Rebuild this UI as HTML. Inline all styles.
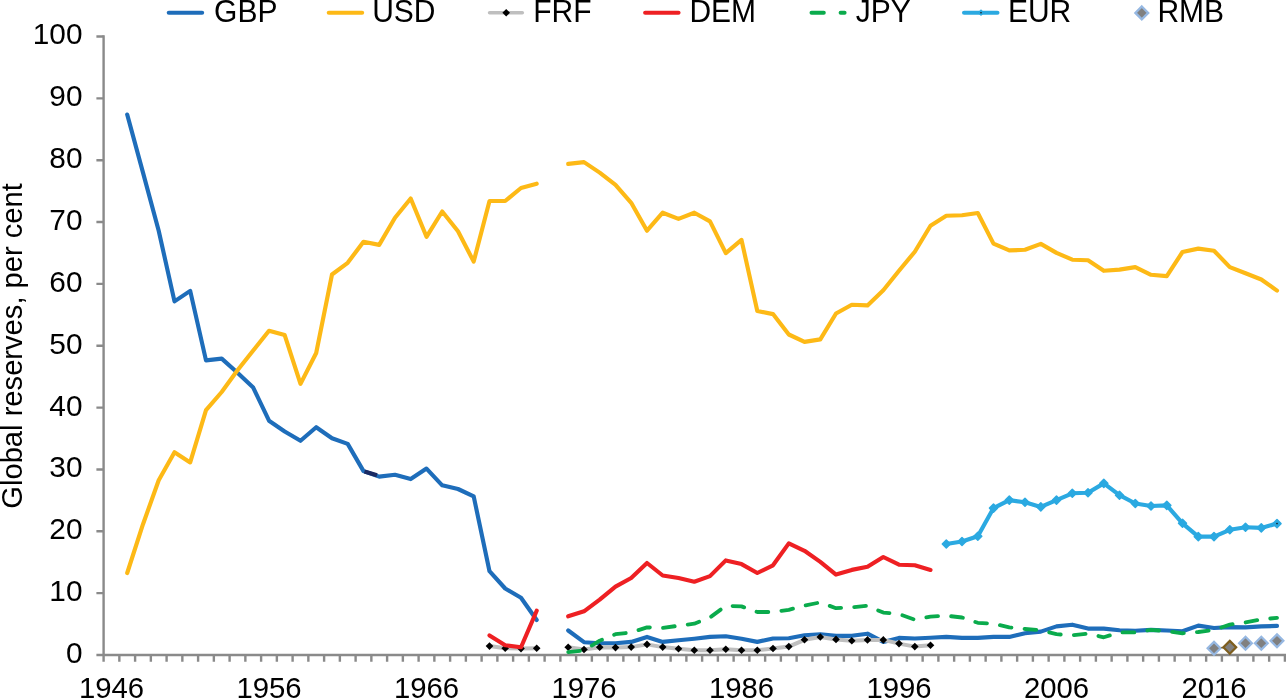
<!DOCTYPE html>
<html lang="en">
<head>
<meta charset="utf-8">
<title>Global reserves, per cent</title>
<style>html,body{margin:0;padding:0;background:#fff}body{width:1286px;height:698px;overflow:hidden}svg{display:block}</style>
</head>
<body>
<svg width="1286" height="698" viewBox="0 0 1286 698">
<rect width="1286" height="698" fill="#fff"/>
<g stroke="#8a8a8a" stroke-width="2.4" fill="none">
<path d="M103.6 35.3V661.8M96.4 655.0H1286"/>
<path d="M96.4 36.50H103.6M96.4 98.35H103.6M96.4 160.20H103.6M96.4 222.05H103.6M96.4 283.90H103.6M96.4 345.75H103.6M96.4 407.60H103.6M96.4 469.45H103.6M96.4 531.30H103.6M96.4 593.15H103.6M119.35 655.0V661.8M135.10 655.0V661.8M150.85 655.0V661.8M166.60 655.0V661.8M182.35 655.0V661.8M198.10 655.0V661.8M213.85 655.0V661.8M229.61 655.0V661.8M245.36 655.0V661.8M261.11 655.0V661.8M276.86 655.0V661.8M292.61 655.0V661.8M308.36 655.0V661.8M324.11 655.0V661.8M339.86 655.0V661.8M355.61 655.0V661.8M371.36 655.0V661.8M387.11 655.0V661.8M402.86 655.0V661.8M418.61 655.0V661.8M434.36 655.0V661.8M450.12 655.0V661.8M465.87 655.0V661.8M481.62 655.0V661.8M497.37 655.0V661.8M513.12 655.0V661.8M528.87 655.0V661.8M544.62 655.0V661.8M560.37 655.0V661.8M576.12 655.0V661.8M591.87 655.0V661.8M607.62 655.0V661.8M623.37 655.0V661.8M639.12 655.0V661.8M654.87 655.0V661.8M670.63 655.0V661.8M686.38 655.0V661.8M702.13 655.0V661.8M717.88 655.0V661.8M733.63 655.0V661.8M749.38 655.0V661.8M765.13 655.0V661.8M780.88 655.0V661.8M796.63 655.0V661.8M812.38 655.0V661.8M828.13 655.0V661.8M843.88 655.0V661.8M859.63 655.0V661.8M875.38 655.0V661.8M891.13 655.0V661.8M906.89 655.0V661.8M922.64 655.0V661.8M938.39 655.0V661.8M954.14 655.0V661.8M969.89 655.0V661.8M985.64 655.0V661.8M1001.39 655.0V661.8M1017.14 655.0V661.8M1032.89 655.0V661.8M1048.64 655.0V661.8M1064.39 655.0V661.8M1080.14 655.0V661.8M1095.89 655.0V661.8M1111.64 655.0V661.8M1127.40 655.0V661.8M1143.15 655.0V661.8M1158.90 655.0V661.8M1174.65 655.0V661.8M1190.40 655.0V661.8M1206.15 655.0V661.8M1221.90 655.0V661.8M1237.65 655.0V661.8M1253.40 655.0V661.8M1269.15 655.0V661.8M1284.90 655.0V661.8"/>
</g>
<g>
<polyline points="127.2,114.5 143.0,172.6 158.7,230.7 174.5,301.4 190.2,290.9 206.0,360.4 221.7,358.6 237.5,372.8 253.2,387.6 269.0,420.7 284.7,431.5 300.5,440.8 316.2,427.2 332.0,438.3 347.7,443.9 363.5,471.1 379.2,476.6 395.0,474.8 410.7,479.1 426.5,468.6 442.2,485.3 458.0,489.0 473.7,496.4 489.5,571.2 505.2,588.5 521.0,597.7 536.7,620.0" stroke="#1e6dba" fill="none" stroke-width="4.15" stroke-linejoin="round" stroke-linecap="round"/>
<polyline points="568.2,630.5 584.0,642.2 599.7,643.2 615.5,643.2 631.2,641.9 647.0,636.9 662.7,641.9 678.5,640.2 694.3,638.7 710.0,636.9 725.8,636.2 741.5,638.7 757.3,641.9 773.0,638.5 788.8,638.2 804.5,635.3 820.3,634.2 836.0,635.8 851.8,635.8 867.5,633.7 883.3,641.9 899.0,637.9 914.8,638.5 930.5,637.7 946.3,636.9 962.0,637.9 977.8,637.9 993.5,636.9 1009.3,636.9 1025.0,633.3 1040.8,631.6 1056.5,626.4 1072.3,624.7 1088.0,628.6 1103.8,628.6 1119.5,630.3 1135.3,630.8 1151.0,629.9 1166.8,630.5 1182.5,631.3 1198.3,625.6 1214.0,628.0 1229.8,627.1 1245.5,627.4 1261.3,626.4 1277.0,625.9" stroke="#1e6dba" fill="none" stroke-width="4.15" stroke-linejoin="round" stroke-linecap="round"/>
<path d="M364.5 471.4L377.0 475.3" stroke="#1b2a63" stroke-width="4.15" fill="none"/>
<polyline points="127.2,573.0 143.0,524.2 158.7,480.3 174.5,452.2 190.2,462.4 206.0,410.2 221.7,392.0 237.5,370.3 253.2,350.5 269.0,330.8 284.7,335.1 300.5,383.9 316.2,353.0 332.0,274.5 347.7,262.8 363.5,241.8 379.2,244.9 395.0,217.7 410.7,198.5 426.5,236.8 442.2,211.5 458.0,231.3 473.7,261.6 489.5,201.0 505.2,201.0 521.0,188.0 536.7,183.7" stroke="#fdb916" fill="none" stroke-width="4.15" stroke-linejoin="round" stroke-linecap="round"/>
<polyline points="568.2,163.9 584.0,162.1 599.7,172.6 615.5,184.9 631.2,202.8 647.0,230.7 662.7,212.7 678.5,218.9 694.3,212.7 710.0,221.4 725.8,253.2 741.5,239.9 757.3,311.0 773.0,314.1 788.8,334.5 804.5,341.9 820.3,339.4 836.0,313.5 851.8,304.8 867.5,305.4 883.3,290.3 899.0,270.8 914.8,251.7 930.5,225.7 946.3,215.8 962.0,215.2 977.8,213.0 993.5,243.6 1009.3,250.4 1025.0,249.8 1040.8,243.9 1056.5,252.9 1072.3,259.7 1088.0,260.3 1103.8,270.8 1119.5,269.6 1135.3,267.1 1151.0,274.8 1166.8,276.1 1182.5,252.0 1198.3,248.6 1214.0,250.7 1229.8,267.1 1245.5,273.3 1261.3,279.5 1277.0,290.6" stroke="#fdb916" fill="none" stroke-width="4.15" stroke-linejoin="round" stroke-linecap="round"/>
<polyline points="489.5,646.1 505.2,648.2 521.0,648.6 536.7,648.2" stroke="#bfbfbf" fill="none" stroke-width="4.0" stroke-linejoin="round" stroke-linecap="round"/>
<polyline points="568.2,647.3 584.0,649.5 599.7,647.3 615.5,647.6 631.2,647.1 647.0,644.4 662.7,647.1 678.5,648.7 694.3,650.2 710.0,650.2 725.8,649.3 741.5,650.2 757.3,650.2 773.0,648.5 788.8,646.6 804.5,639.8 820.3,637.0 836.0,639.4 851.8,640.7 867.5,639.9 883.3,639.9 899.0,643.6 914.8,646.6 930.5,645.2" stroke="#bfbfbf" fill="none" stroke-width="4.0" stroke-linejoin="round" stroke-linecap="round"/>
<path d="M489.5 642.3L493.3 646.1L489.5 649.9L485.7 646.1Z" fill="#000"/>
<path d="M505.2 644.4L509.0 648.2L505.2 652.0L501.4 648.2Z" fill="#000"/>
<path d="M521.0 644.8L524.8 648.6L521.0 652.4L517.2 648.6Z" fill="#000"/>
<path d="M536.7 644.4L540.5 648.2L536.7 652.0L532.9 648.2Z" fill="#000"/>
<path d="M568.2 643.5L572.0 647.3L568.2 651.1L564.4 647.3Z" fill="#000"/>
<path d="M584.0 645.7L587.8 649.5L584.0 653.3L580.2 649.5Z" fill="#000"/>
<path d="M599.7 643.5L603.5 647.3L599.7 651.1L595.9 647.3Z" fill="#000"/>
<path d="M615.5 643.8L619.3 647.6L615.5 651.4L611.7 647.6Z" fill="#000"/>
<path d="M631.2 643.3L635.0 647.1L631.2 650.9L627.4 647.1Z" fill="#000"/>
<path d="M647.0 640.6L650.8 644.4L647.0 648.2L643.2 644.4Z" fill="#000"/>
<path d="M662.7 643.3L666.5 647.1L662.7 650.9L658.9 647.1Z" fill="#000"/>
<path d="M678.5 644.9L682.3 648.7L678.5 652.5L674.7 648.7Z" fill="#000"/>
<path d="M694.3 646.4L698.1 650.2L694.3 654.0L690.5 650.2Z" fill="#000"/>
<path d="M710.0 646.4L713.8 650.2L710.0 654.0L706.2 650.2Z" fill="#000"/>
<path d="M725.8 645.5L729.6 649.3L725.8 653.1L722.0 649.3Z" fill="#000"/>
<path d="M741.5 646.4L745.3 650.2L741.5 654.0L737.7 650.2Z" fill="#000"/>
<path d="M757.3 646.4L761.1 650.2L757.3 654.0L753.5 650.2Z" fill="#000"/>
<path d="M773.0 644.7L776.8 648.5L773.0 652.3L769.2 648.5Z" fill="#000"/>
<path d="M788.8 642.8L792.6 646.6L788.8 650.4L785.0 646.6Z" fill="#000"/>
<path d="M804.5 636.0L808.3 639.8L804.5 643.6L800.7 639.8Z" fill="#000"/>
<path d="M820.3 633.2L824.1 637.0L820.3 640.8L816.5 637.0Z" fill="#000"/>
<path d="M836.0 635.6L839.8 639.4L836.0 643.2L832.2 639.4Z" fill="#000"/>
<path d="M851.8 636.9L855.6 640.7L851.8 644.5L848.0 640.7Z" fill="#000"/>
<path d="M867.5 636.1L871.3 639.9L867.5 643.7L863.7 639.9Z" fill="#000"/>
<path d="M883.3 636.1L887.1 639.9L883.3 643.7L879.5 639.9Z" fill="#000"/>
<path d="M899.0 639.8L902.8 643.6L899.0 647.4L895.2 643.6Z" fill="#000"/>
<path d="M914.8 642.8L918.6 646.6L914.8 650.4L911.0 646.6Z" fill="#000"/>
<path d="M930.5 641.4L934.3 645.2L930.5 649.0L926.7 645.2Z" fill="#000"/>
<polyline points="489.5,635.4 505.2,645.3 521.0,647.2 536.7,610.7" stroke="#ee2023" fill="none" stroke-width="4.15" stroke-linejoin="round" stroke-linecap="round"/>
<polyline points="568.2,616.3 584.0,611.3 599.7,599.6 615.5,586.6 631.2,578.0 647.0,563.0 662.7,575.5 678.5,578.0 694.3,581.7 710.0,576.1 725.8,560.4 741.5,564.1 757.3,573.0 773.0,565.3 788.8,543.4 804.5,550.8 820.3,561.9 836.0,574.6 851.8,569.9 867.5,566.8 883.3,557.0 899.0,564.7 914.8,565.3 930.5,569.9" stroke="#ee2023" fill="none" stroke-width="4.15" stroke-linejoin="round" stroke-linecap="round"/>
<polyline points="568.2,652.1 584.0,650.3 599.7,640.7 615.5,634.2 631.2,632.4 647.0,627.4 662.7,628.0 678.5,625.7 694.3,623.7 710.0,617.5 725.8,605.8 741.5,606.4 757.3,612.0 773.0,612.0 788.8,609.8 804.5,605.5 820.3,602.4 836.0,608.2 851.8,607.3 867.5,605.8 883.3,612.6 899.0,614.1 914.8,619.7 930.5,616.6 946.3,615.7 962.0,617.5 977.8,622.8 993.5,623.7 1009.3,627.4 1025.0,629.0 1040.8,630.3 1056.5,634.2 1072.3,635.3 1088.0,633.6 1103.8,637.3 1119.5,632.4 1135.3,632.4 1151.0,629.9 1166.8,631.1 1182.5,633.3 1198.3,632.0 1214.0,629.9 1229.8,624.6 1245.5,622.5 1261.3,619.4 1277.0,617.8" stroke="#0aab4c" fill="none" stroke-width="3.8" stroke-linejoin="round" stroke-linecap="round" stroke-dasharray="11.8 13.15"/>
<polyline points="946.3,544.0 962.0,541.5 977.8,536.3 993.5,508.1 1009.3,500.1 1025.0,502.3 1040.8,506.9 1056.5,500.1 1072.3,493.3 1088.0,492.7 1103.8,483.4 1119.5,495.2 1135.3,503.5 1151.0,506.0 1166.8,505.4 1182.5,523.3 1198.3,536.6 1214.0,536.6 1229.8,529.8 1245.5,527.3 1261.3,527.9 1277.0,523.6" stroke="#2ba9e1" fill="none" stroke-width="4.15" stroke-linejoin="round" stroke-linecap="round"/>
<path d="M946.3 540.0L950.3 544.0L946.3 548.0L942.3 544.0Z" fill="#2ba9e1" stroke="#2ba9e1" stroke-width="1.5" stroke-linejoin="round"/>
<path d="M962.0 537.5L966.0 541.5L962.0 545.5L958.0 541.5Z" fill="#2ba9e1" stroke="#2ba9e1" stroke-width="1.5" stroke-linejoin="round"/>
<path d="M977.8 532.3L981.8 536.3L977.8 540.3L973.8 536.3Z" fill="#2ba9e1" stroke="#2ba9e1" stroke-width="1.5" stroke-linejoin="round"/>
<path d="M993.5 504.1L997.5 508.1L993.5 512.1L989.5 508.1Z" fill="#2ba9e1" stroke="#2ba9e1" stroke-width="1.5" stroke-linejoin="round"/>
<path d="M1009.3 496.1L1013.3 500.1L1009.3 504.1L1005.3 500.1Z" fill="#2ba9e1" stroke="#2ba9e1" stroke-width="1.5" stroke-linejoin="round"/>
<path d="M1025.0 498.3L1029.0 502.3L1025.0 506.3L1021.0 502.3Z" fill="#2ba9e1" stroke="#2ba9e1" stroke-width="1.5" stroke-linejoin="round"/>
<path d="M1040.8 502.9L1044.8 506.9L1040.8 510.9L1036.8 506.9Z" fill="#2ba9e1" stroke="#2ba9e1" stroke-width="1.5" stroke-linejoin="round"/>
<path d="M1056.5 496.1L1060.5 500.1L1056.5 504.1L1052.5 500.1Z" fill="#2ba9e1" stroke="#2ba9e1" stroke-width="1.5" stroke-linejoin="round"/>
<path d="M1072.3 489.3L1076.3 493.3L1072.3 497.3L1068.3 493.3Z" fill="#2ba9e1" stroke="#2ba9e1" stroke-width="1.5" stroke-linejoin="round"/>
<path d="M1088.0 488.7L1092.0 492.7L1088.0 496.7L1084.0 492.7Z" fill="#2ba9e1" stroke="#2ba9e1" stroke-width="1.5" stroke-linejoin="round"/>
<path d="M1103.8 479.4L1107.8 483.4L1103.8 487.4L1099.8 483.4Z" fill="#2ba9e1" stroke="#2ba9e1" stroke-width="1.5" stroke-linejoin="round"/>
<path d="M1119.5 491.2L1123.5 495.2L1119.5 499.2L1115.5 495.2Z" fill="#2ba9e1" stroke="#2ba9e1" stroke-width="1.5" stroke-linejoin="round"/>
<path d="M1135.3 499.5L1139.3 503.5L1135.3 507.5L1131.3 503.5Z" fill="#2ba9e1" stroke="#2ba9e1" stroke-width="1.5" stroke-linejoin="round"/>
<path d="M1151.0 502.0L1155.0 506.0L1151.0 510.0L1147.0 506.0Z" fill="#2ba9e1" stroke="#2ba9e1" stroke-width="1.5" stroke-linejoin="round"/>
<path d="M1166.8 501.4L1170.8 505.4L1166.8 509.4L1162.8 505.4Z" fill="#2ba9e1" stroke="#2ba9e1" stroke-width="1.5" stroke-linejoin="round"/>
<path d="M1182.5 519.3L1186.5 523.3L1182.5 527.3L1178.5 523.3Z" fill="#2ba9e1" stroke="#2ba9e1" stroke-width="1.5" stroke-linejoin="round"/>
<path d="M1198.3 532.6L1202.3 536.6L1198.3 540.6L1194.3 536.6Z" fill="#2ba9e1" stroke="#2ba9e1" stroke-width="1.5" stroke-linejoin="round"/>
<path d="M1214.0 532.6L1218.0 536.6L1214.0 540.6L1210.0 536.6Z" fill="#2ba9e1" stroke="#2ba9e1" stroke-width="1.5" stroke-linejoin="round"/>
<path d="M1229.8 525.8L1233.8 529.8L1229.8 533.8L1225.8 529.8Z" fill="#2ba9e1" stroke="#2ba9e1" stroke-width="1.5" stroke-linejoin="round"/>
<path d="M1245.5 523.3L1249.5 527.3L1245.5 531.3L1241.5 527.3Z" fill="#2ba9e1" stroke="#2ba9e1" stroke-width="1.5" stroke-linejoin="round"/>
<path d="M1261.3 523.9L1265.3 527.9L1261.3 531.9L1257.3 527.9Z" fill="#2ba9e1" stroke="#2ba9e1" stroke-width="1.5" stroke-linejoin="round"/>
<path d="M1277.0 519.6L1281.0 523.6L1277.0 527.6L1273.0 523.6Z" fill="#2ba9e1" stroke="#2ba9e1" stroke-width="1.5" stroke-linejoin="round"/>
<circle cx="1277.0" cy="523.6" r="0.8" fill="#111"/>
<path d="M1220.3 647.7H1223.8" stroke="#7d5e1e" stroke-width="1.6"/>
<path d="M1214.0 641.9L1220.4 648.3L1214.0 654.7L1207.6 648.3Z" fill="#808080" stroke="#96b8e2" stroke-width="2.2"/>
<path d="M1229.8 640.9L1236.2 647.3L1229.8 653.7L1223.4 647.3Z" fill="#808080" stroke="#7d5e1e" stroke-width="2.2"/>
<path d="M1245.5 636.8L1251.9 643.2L1245.5 649.6L1239.1 643.2Z" fill="#808080" stroke="#96b8e2" stroke-width="2.2"/>
<path d="M1261.3 636.8L1267.7 643.2L1261.3 649.6L1254.9 643.2Z" fill="#808080" stroke="#96b8e2" stroke-width="2.2"/>
<path d="M1277.0 634.4L1283.4 640.8L1277.0 647.2L1270.6 640.8Z" fill="#808080" stroke="#96b8e2" stroke-width="2.2"/>
</g>
<g>
<path d="M168.8 12.75H202.1" stroke="#1e6dba" stroke-width="4.2" stroke-linecap="round" fill="none" />
<path d="M328.8 12.75H362.1" stroke="#fdb916" stroke-width="4.2" stroke-linecap="round" fill="none" />
<path d="M489.6 12.75H522.3" stroke="#bfbfbf" stroke-width="3.6" stroke-linecap="round" fill="none"/>
<path d="M506.2 8.9L510.0 12.8L506.2 16.6L502.4 12.8Z" fill="#000"/>
<path d="M645.2 12.75H678.5" stroke="#ee2023" stroke-width="4.2" stroke-linecap="round" fill="none" />
<path d="M811.5 12.75H823.8M840.6 12.75H844.6" stroke="#0aab4c" stroke-width="4" stroke-linecap="round" fill="none"/>
<path d="M964.1 12.75H997.4" stroke="#2ba9e1" stroke-width="4.2" stroke-linecap="round" fill="none" />
<path d="M981.0 9.3L984.4 12.8L981.0 16.1L977.6 12.8Z" fill="#2ba9e1"/>
<circle cx="981" cy="12.75" r="0.8" fill="#111"/>
<path d="M1141.8 6.5L1148.2 12.9L1141.8 19.3L1135.4 12.9Z" fill="#808080" stroke="#96b8e2" stroke-width="2.3"/>
</g>
<g font-family="'Liberation Sans', Arial, Helvetica, sans-serif" font-size="30" fill="#000" transform="scale(1 1.02)">
<text x="214.1" y="21.47">GBP</text>
<text x="372.2" y="21.47">USD</text>
<text x="533.3" y="21.47">FRF</text>
<text x="689.4" y="21.47">DEM</text>
<text x="855.7" y="21.47">JPY</text>
<text x="1007.9" y="21.47">EUR</text>
<text x="1157.4" y="21.47">RMB</text>
</g>
<g font-family="'Liberation Sans', Arial, Helvetica, sans-serif" font-size="30.5" fill="#000">
<text x="82.5" y="662.9" text-anchor="end" font-size="29.8">0</text>
<text x="82.5" y="601.0" text-anchor="end" font-size="29.8">10</text>
<text x="82.5" y="539.2" text-anchor="end" font-size="29.8">20</text>
<text x="82.5" y="477.3" text-anchor="end" font-size="29.8">30</text>
<text x="82.5" y="415.5" text-anchor="end" font-size="29.8">40</text>
<text x="82.5" y="353.6" text-anchor="end" font-size="29.8">50</text>
<text x="82.5" y="291.8" text-anchor="end" font-size="29.8">60</text>
<text x="82.5" y="230.0" text-anchor="end" font-size="29.8">70</text>
<text x="82.5" y="168.1" text-anchor="end" font-size="29.8">80</text>
<text x="82.5" y="106.3" text-anchor="end" font-size="29.8">90</text>
<text x="82.5" y="44.4" text-anchor="end" font-size="29.8">100</text>
<text x="111.5" y="698.0" text-anchor="middle" font-size="29.3">1946</text>
<text x="269.0" y="698.0" text-anchor="middle" font-size="29.3">1956</text>
<text x="426.5" y="698.0" text-anchor="middle" font-size="29.3">1966</text>
<text x="584.0" y="698.0" text-anchor="middle" font-size="29.3">1976</text>
<text x="741.5" y="698.0" text-anchor="middle" font-size="29.3">1986</text>
<text x="899.0" y="698.0" text-anchor="middle" font-size="29.3">1996</text>
<text x="1056.5" y="698.0" text-anchor="middle" font-size="29.3">2006</text>
<text x="1214.0" y="698.0" text-anchor="middle" font-size="29.3">2016</text>
<text transform="translate(21.9 345.9) rotate(-90)" text-anchor="middle" font-size="29.15">Global reserves, per cent</text>
</g>
</svg>
</body>
</html>
